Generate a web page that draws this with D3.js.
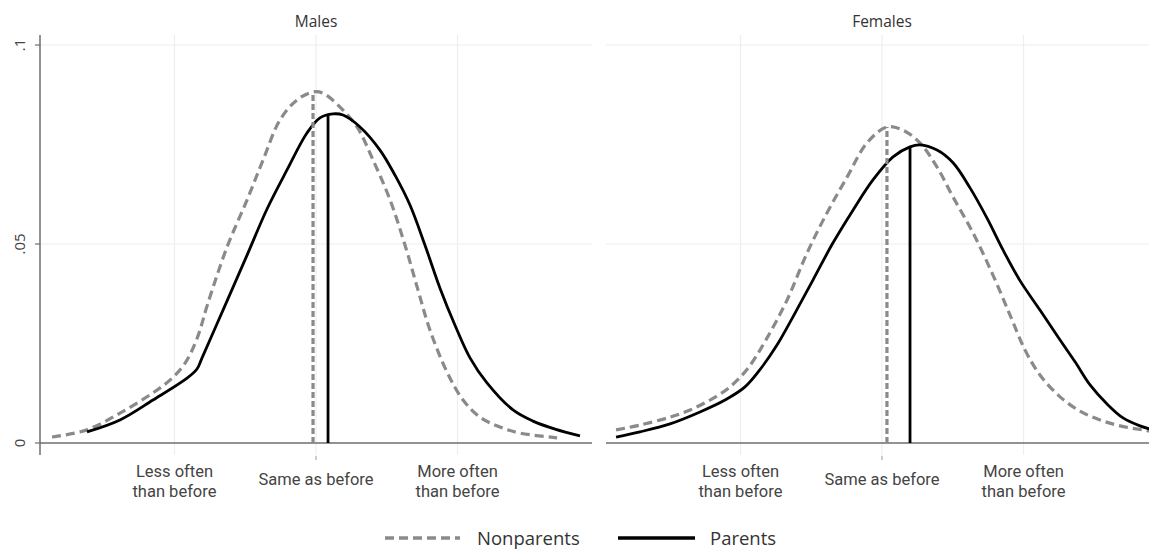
<!DOCTYPE html>
<html><head><meta charset="utf-8">
<script src="https://cdn.jsdelivr.net/npm/d3@7"></script>
<style>body{margin:0;background:#fff;} svg{display:block;font-family:"Open Sans","Noto Sans",sans-serif;}</style>
</head><body><svg id="c" width="1149" height="550"></svg>
<script>
const panels = ["Males", "Females"];
const categoryValues = [-10, 0, 10];
const categoryLabels = [["Less often", "than before"], ["Same as before"], ["More often", "than before"]];
const yTickValues = [0, 0.05, 0.1];
const yTickLabels = ["0", ".05", ".1"];
const seriesNames = ["Nonparents", "Parents"];

const malesNonparents = [[-18.65,0.0015],[-16.18,0.0033],[-13.85,0.0075],[-11.52,0.0126],[-10.32,0.0158],[-9.26,0.0200],[-8.41,0.0262],[-7.63,0.0352],[-6.29,0.0492],[-4.87,0.0611],[-3.74,0.0711],[-2.54,0.0812],[-1.34,0.0862],[-0.21,0.0882],[0.49,0.0879],[1.70,0.0844],[2.90,0.0794],[4.03,0.0711],[5.23,0.0611],[6.29,0.0497],[7.21,0.0384],[8.05,0.0284],[9.26,0.0178],[10.39,0.0108],[11.59,0.0065],[13.00,0.0040],[14.41,0.0025],[17.03,0.0013]];
const malesParents = [[-16.18,0.0028],[-13.85,0.0058],[-11.52,0.0108],[-9.11,0.0163],[-8.41,0.0186],[-8.05,0.0214],[-6.57,0.0334],[-4.87,0.0472],[-3.46,0.0588],[-2.05,0.0686],[-0.64,0.0779],[0.28,0.0817],[1.20,0.0827],[1.91,0.0824],[3.11,0.0794],[4.52,0.0736],[5.58,0.0673],[6.64,0.0598],[7.70,0.0497],[8.76,0.0389],[9.82,0.0296],[10.88,0.0214],[12.08,0.0151],[13.92,0.0083],[15.33,0.0055],[16.89,0.0035],[18.65,0.0018]];
const femalesNonparents = [[-18.79,0.0033],[-17.10,0.0045],[-14.98,0.0065],[-13.56,0.0083],[-12.15,0.0108],[-10.74,0.0141],[-9.47,0.0188],[-8.20,0.0259],[-6.71,0.0359],[-5.30,0.0477],[-3.89,0.0578],[-2.47,0.0668],[-1.06,0.0754],[0.35,0.0794],[1.48,0.0786],[2.68,0.0754],[3.89,0.0693],[5.02,0.0618],[6.43,0.0528],[7.84,0.0422],[9.04,0.0322],[10.10,0.0234],[11.16,0.0171],[12.58,0.0116],[13.99,0.0080],[15.40,0.0058],[16.82,0.0043],[18.94,0.0030]];
const femalesParents = [[-18.79,0.0015],[-17.10,0.0028],[-14.98,0.0048],[-12.86,0.0078],[-11.09,0.0108],[-9.68,0.0141],[-8.48,0.0191],[-7.42,0.0246],[-6.29,0.0317],[-4.87,0.0410],[-3.46,0.0503],[-2.05,0.0585],[-0.64,0.0661],[0.78,0.0719],[1.98,0.0744],[2.68,0.0749],[3.89,0.0736],[5.02,0.0704],[6.22,0.0641],[7.42,0.0565],[8.55,0.0485],[9.75,0.0408],[11.16,0.0334],[12.58,0.0259],[13.64,0.0204],[14.70,0.0146],[15.90,0.0098],[17.03,0.0063],[18.23,0.0043],[18.94,0.0035]];
// vertical reference lines: [x, height]
const malesNonparentsMean = [-0.21, 0.0882];
const malesParentsMean = [0.85, 0.0824];
const femalesNonparentsMean = [0.35, 0.0794];
const femalesParentsMean = [1.98, 0.0744];

const panelData = [
  {title: panels[0], series: [malesNonparents, malesParents], means: [malesNonparentsMean, malesParentsMean], range: [40, 592], yAxis: true},
  {title: panels[1], series: [femalesNonparents, femalesParents], means: [femalesNonparentsMean, femalesParentsMean], range: [606, 1158], yAxis: false}
];
const styles = [
  {stroke: "#8a8a8a", width: 3.2, dash: "9,5"},
  {stroke: "#000", width: 2.8, dash: null}
];

const svg = d3.select("#c");
const y = d3.scaleLinear().domain([0, 0.1]).range([443, 45]);
const yTop = y(0.1025), yBot = y(-0.003);

panelData.forEach((p, pi) => {
  const x = d3.scaleLinear().domain([-19.5, 19.5]).range(p.range);
  const g = svg.append("g");
  g.selectAll(".hg").data(yTickValues.filter(v => v > 0)).join("line")
    .attr("x1", p.range[0]).attr("x2", p.range[1])
    .attr("y1", d => y(d)).attr("y2", d => y(d))
    .attr("stroke", "#eeeeee").attr("stroke-width", 1.2);
  g.selectAll(".vg").data(categoryValues).join("line")
    .attr("x1", d => x(d)).attr("x2", d => x(d))
    .attr("y1", yTop).attr("y2", yBot)
    .attr("stroke", "#eeeeee").attr("stroke-width", 1.2);
  g.append("line").attr("x1", p.range[0]).attr("x2", p.range[1])
    .attr("y1", y(0)).attr("y2", y(0)).attr("stroke", "#6e6e6e").attr("stroke-width", 1.5);
  g.append("text").attr("x", x(0)).attr("y", 27).attr("text-anchor", "middle")
    .attr("font-size", 15.5).attr("fill", "#333").text(p.title);
  g.append("line").attr("x1", x(0)).attr("x2", x(0)).attr("y1", yBot + 1).attr("y2", yBot + 5)
    .attr("stroke", "#999").attr("stroke-width", 1);
  categoryValues.forEach((c, i) => {
    const lines = categoryLabels[i];
    lines.forEach((l, j) => {
      const yy = lines.length === 1 ? 485 : 477 + j * 19.5;
      g.append("text").attr("x", x(c)).attr("y", yy).attr("text-anchor", "middle")
        .attr("font-family", "Roboto, sans-serif").attr("font-size", 16.5).attr("fill", "#444").text(l);
    });
  });
  if (p.yAxis) {
    g.append("line").attr("x1", p.range[0]).attr("x2", p.range[0]).attr("y1", yTop).attr("y2", yBot)
      .attr("stroke", "#6e6e6e").attr("stroke-width", 1.5);
    yTickValues.forEach((v, i) => {
      g.append("line").attr("x1", p.range[0] - 5).attr("x2", p.range[0]).attr("y1", y(v)).attr("y2", y(v))
        .attr("stroke", "#6e6e6e").attr("stroke-width", 1.2);
      g.append("text").attr("transform", `translate(25,${y(v)}) rotate(-90)`)
        .attr("text-anchor", "middle").attr("font-size", 15).attr("fill", "#444").text(yTickLabels[i]);
    });
  }
  const line = d3.line().x(d => x(d[0])).y(d => y(d[1])).curve(d3.curveCatmullRom.alpha(0.5));
  p.series.forEach((s, si) => {
    g.append("path").datum(s).attr("d", line).attr("fill", "none")
      .attr("stroke", styles[si].stroke).attr("stroke-width", styles[si].width)
      .attr("stroke-dasharray", styles[si].dash).attr("stroke-linejoin", "round");
  });
  p.means.forEach((m, si) => {
    g.append("line").attr("x1", x(m[0])).attr("x2", x(m[0])).attr("y1", y(0)).attr("y2", y(m[1]))
      .attr("stroke", styles[si].stroke).attr("stroke-width", si === 0 ? 3.2 : 2.8)
      .attr("stroke-dasharray", si === 0 ? "6,3" : null);
  });
});

const lg = svg.append("g");
const legendItems = [{x1: 385, x2: 460, tx: 477}, {x1: 618, x2: 695, tx: 710}];
seriesNames.forEach((n, i) => {
  lg.append("line").attr("x1", legendItems[i].x1).attr("x2", legendItems[i].x2).attr("y1", 538).attr("y2", 538)
    .attr("stroke", styles[i].stroke).attr("stroke-width", 3.4).attr("stroke-dasharray", styles[i].dash);
  lg.append("text").attr("x", legendItems[i].tx).attr("y", 544.5).attr("font-size", 18.5).attr("fill", "#333").text(n);
});
</script></body></html>
